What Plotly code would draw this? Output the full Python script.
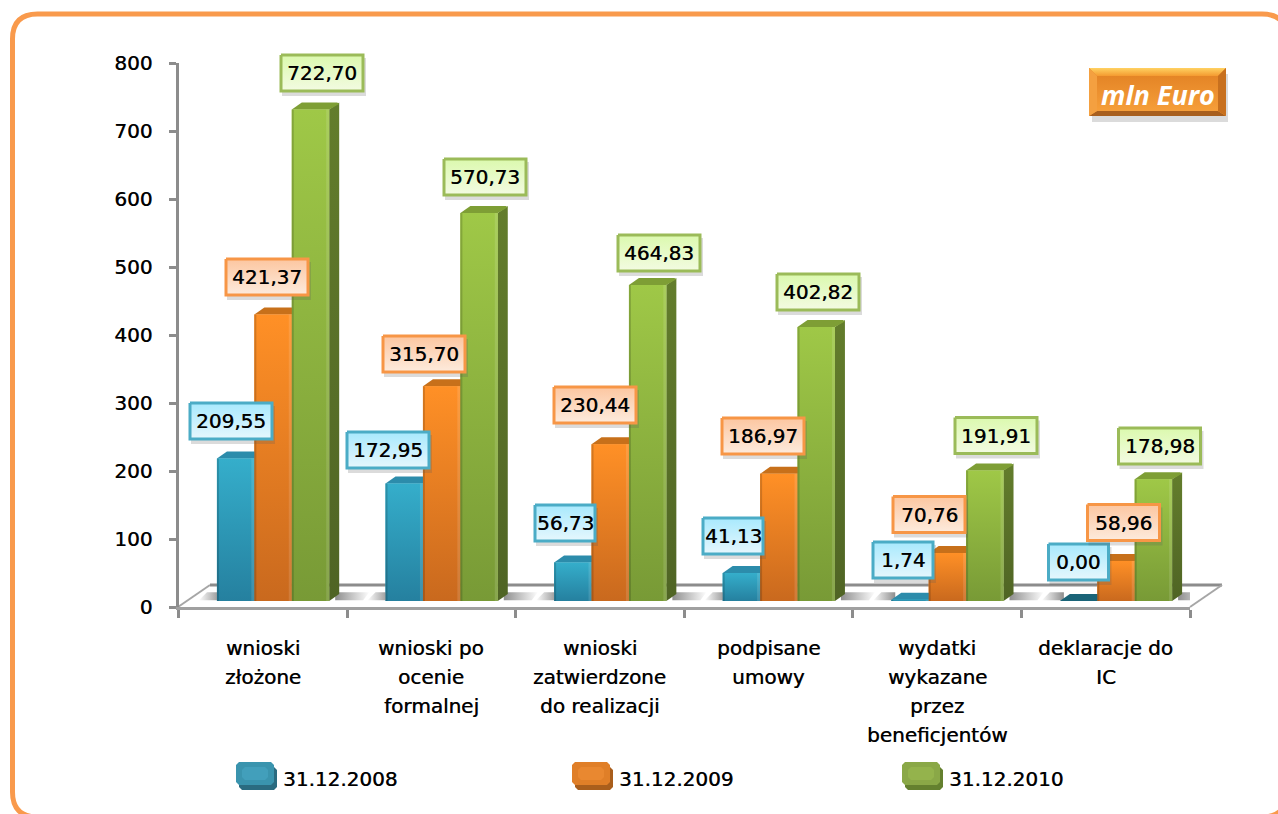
import plotly.graph_objects as go

# ---------- data ----------
categories = [
    ["wnioski", "złożone"],
    ["wnioski po", "ocenie", "formalnej"],
    ["wnioski", "zatwierdzone", "do realizacji"],
    ["podpisane", "umowy"],
    ["wydatki", "wykazane", "przez", "beneficjentów"],
    ["deklaracje do", "IC"],
]
series_names = ["31.12.2008", "31.12.2009", "31.12.2010"]
values_2008 = [209.55, 172.95, 56.73, 41.13, 1.74, 0.00]
values_2009 = [421.37, 315.70, 230.44, 186.97, 70.76, 58.96]
values_2010 = [722.70, 570.73, 464.83, 402.82, 191.91, 178.98]
y_ticks = [0, 100, 200, 300, 400, 500, 600, 700, 800]
unit_label = "mln Euro"

# ---------- layout constants (pixels of the 1278x814 page) ----------
W, H = 1278, 814
X0, X1 = 178.5, 1190.0
Y0, Y800 = 607.0, 63.0
PX_X = (X1 - X0) / 6.0
PX_Y = (Y0 - Y800) / 800.0
FONT = "DejaVu Sans"
THICK = "0.5px 0 0.5px rgba(0,0,0,0.75)"

# value-axis shift of the 3-D bars above the front edge of the floor
BASE = 6.0 / PX_Y
DX = 10.0 / PX_X
DY = 7.0 / PX_Y
BAR_W = 37.4 / PX_X
OFFSETS = [-0.272, -0.050, 0.172]

STYLE = [
    dict(top="#35AECB", bottom="#25809F", side="#1F6F8A", cap="#2C8CAB", cap0="#1A6478",
         border="#4BACC6", f0="#E6F7FD", f1="#A8E9FD", sw="#3A94AE", sw2="#429FBB", dark="#2A6B80"),
    dict(top="#FF9026", bottom="#C9691E", side="#B85F14", cap="#C7701A", cap0="#C7701A",
         border="#F79646", f0="#FDEBDD", f1="#FCC6A0", sw="#E07F28", sw2="#E98830", dark="#A95E1C"),
    dict(top="#9FC847", bottom="#789A36", side="#637D2C", cap="#7E9E35", cap0="#7E9E35",
         border="#9BBB59", f0="#F3FBE2", f1="#DBF9AE", sw="#8AA847", sw2="#94B34C", dark="#64802F"),
]

# label box centres, in page pixels, one row per series
LABEL_POS = [
    [(231, 421), (388, 450), (565, 523), (733, 536), (903, 560), (1078.5, 562)],
    [(267, 277), (424, 354), (595, 405), (763, 436), (929, 514.5), (1123.5, 522.5)],
    [(322, 73), (485, 177), (659, 253), (818, 292), (996, 435.5), (1159.5, 446)],
]
LEGEND_X = [236, 572, 902]
CAT_LINE_Y = 648
CAT_LINE_STEP = 29.0

series = [values_2008, values_2009, values_2010]
fig = go.Figure()


def poly(xs, ys, color=None, grad=None, axes=("x", "y"), line=None, lw=0, name=""):
    kw = dict(
        x=list(xs) + [xs[0]], y=list(ys) + [ys[0]],
        xaxis=axes[0], yaxis=axes[1], mode="lines", fill="toself",
        hoverinfo="skip", showlegend=False, name=name,
        line=dict(width=lw, color=line or "rgba(0,0,0,0)"),
    )
    if grad:
        kw["fillgradient"] = dict(type=grad[0], colorscale=[[0, grad[1]], [1, grad[2]]])
    else:
        kw["fillcolor"] = color
    fig.add_trace(go.Scatter(**kw))


# real bars (front faces)
for s, vals in enumerate(series):
    fig.add_trace(go.Bar(
        x=list(range(6)), y=vals, base=BASE, width=BAR_W, offset=OFFSETS[s],
        name=series_names[s], marker=dict(color=STYLE[s]["top"], line=dict(width=0)),
        showlegend=False, hovertemplate="%{y:.2f}<extra>" + series_names[s] + "</extra>",
    ))

# floor shadows left and right of each group
for c in range(6):
    xl = c + OFFSETS[0]
    xr = c + OFFSETS[2] + BAR_W + DX
    yb, yt = BASE + 1, BASE + 13
    poly([xl - 18 / PX_X, xl + 4 / PX_X, xl + 4 / PX_X, xl - 10 / PX_X], [yb, yb, yt, yt],
         grad=("horizontal", "#FDFDFD", "#8E8E8E"))
    poly([xr - 4 / PX_X, xr + 24 / PX_X, xr + 30 / PX_X, xr - 4 / PX_X], [yb, yb, yt, yt],
         grad=("horizontal", "#8E8E8E", "#FDFDFD"))

# 3-D faces, painted in series order so that later bars cover earlier ones
for c in range(6):
    for s, vals in enumerate(series):
        v = vals[c]
        st = STYLE[s]
        x0 = c + OFFSETS[s]
        x1 = x0 + BAR_W
        yt = BASE + v
        e = 2.0 / PX_X
        # side face
        poly([x1, x1 + DX, x1 + DX, x1], [BASE, BASE + DY, yt + DY, yt],
             grad=("vertical", "#4F6424" if s == 2 else st["side"], st["side"]))
        # top face with softened back corners
        poly([x0, x0 + DX * 0.8, x0 + DX * 1.0, x1 + DX * 0.8, x1 + DX, x1],
             [yt, yt + DY * 0.8, yt + DY, yt + DY, yt + DY * 0.8, yt],
             color=st["cap0"] if v == 0 else st["cap"])
        if v > 0:
            # front face, gradient from foot to head
            poly([x0, x1, x1, x0], [BASE, BASE, yt, yt], grad=("vertical", st["bottom"], st["top"]))
            poly([x0, x0 + e, x0 + e, x0], [BASE, BASE, yt, yt], color="rgba(0,0,0,0.16)")
            poly([x1 - e * 1.5, x1, x1, x1 - e * 1.5], [BASE, BASE, yt, yt], color="rgba(255,255,255,0.12)")

annotations = []


def text(x, y, s, size=20, color="#000000", anchor="center", axes=("x2", "y2"), shadow=THICK, family=FONT):
    annotations.append(dict(
        x=x, y=y, xref=axes[0], yref=axes[1], text=s, showarrow=False,
        xanchor=anchor, yanchor="middle",
        font=dict(family=family, size=size, color=color, shadow=shadow),
    ))


P = ("x2", "y2")

# value labels
for s, vals in enumerate(series):
    st = STYLE[s]
    for c, v in enumerate(vals):
        cx, cy = LABEL_POS[s][c]
        label = f"{v:.2f}".replace(".", ",")
        if len(label) == 6:
            hw = 41
        elif s == 0:
            hw = 30
        else:
            hw = 36
        hh = 18
        poly([cx - hw + 1, cx + hw + 3, cx + hw + 3, cx - hw + 1],
             [cy - hh + 3, cy - hh + 3, cy + hh + 5, cy + hh + 5],
             color="rgba(90,90,90,0.22)", axes=P)
        poly([cx - hw, cx + hw, cx + hw, cx - hw], [cy - hh, cy - hh, cy + hh, cy + hh],
             grad=("vertical", st["f0"], st["f1"]), axes=P, line=st["border"], lw=3)
        text(cx, cy, label)

# unit badge
poly([1092, 1228, 1228, 1092], [74, 74, 122, 122], color="rgba(90,90,90,0.22)", axes=P)
poly([1089, 1226, 1226, 1089], [68, 68, 116, 116], grad=("vertical", "#F8A23C", "#E07F22"), axes=P)
poly([1089, 1226, 1218, 1097], [68, 68, 76, 76], grad=("vertical", "#F49A30", "#FFD262"), axes=P)
poly([1089, 1226, 1218, 1097], [116, 116, 111, 111], color="#A85F1E", axes=P)
poly([1089, 1097, 1097, 1089], [68, 76, 111, 116], color="#F4A040", axes=P)
poly([1226, 1218, 1218, 1226], [68, 76, 111, 116], color="#C8701E", axes=P)
text(1157.5, 94, f"<b><i>{unit_label}</i></b>", size=27, color="#FFFFFF", shadow="none", family="Open Sans")

# legend
for s, name in enumerate(series_names):
    st = STYLE[s]
    lx = LEGEND_X[s]
    rr = lambda a, b, c, d, k=3: ([a + k, b - k, b, b, b - k, a + k, a, a], [c, c, c + k, d - k, d, d, d - k, c + k])
    xs, ys = rr(lx + 3, lx + 41, 767, 790)
    poly(xs, ys, color=st["dark"], axes=P)
    xs, ys = rr(lx, lx + 38, 762, 785)
    poly(xs, ys, color=st["sw"], axes=P)
    xs, ys = rr(lx + 6, lx + 32, 767, 780)
    poly(xs, ys, color=st["sw2"], axes=P)
    text(lx + 45, 779, name, anchor="left")

# category labels, one annotation per line
for c, lines in enumerate(categories):
    for i, ln in enumerate(lines):
        annotations.append(dict(
            x=c, xref="x", y=CAT_LINE_Y + i * CAT_LINE_STEP, yref="y2", text=ln, showarrow=False,
            xanchor="center", yanchor="middle",
            font=dict(family=FONT, size=20, color="#000000", shadow=THICK),
        ))


# frame and floor, on the paper so that they sit below both subplots
def px(x):
    return x / W


def py(y):
    return 1 - y / H


def path(points):
    out = ""
    for cmd, coords in points:
        out += cmd + " " + " ".join(
            f"{px(coords[i]):.6f} {py(coords[i + 1]):.6f}" for i in range(0, len(coords), 2)
        ) + " "
    return out + "Z"


def seg(x0, y0, x1, y1, color, width):
    return dict(type="line", xref="paper", yref="paper", layer="below",
                x0=px(x0), y0=py(y0), x1=px(x1), y1=py(y1), line=dict(color=color, width=width))


shapes = [
    dict(type="path", xref="paper", yref="paper", layer="below", line=dict(color="#F99A4C", width=5),
         path=path([("M", [12.5, 39]), ("Q", [12.5, 14, 37.5, 14]), ("L", [1262, 14]),
                    ("Q", [1287, 14, 1287, 39]), ("L", [1287, 792]), ("Q", [1287, 817, 1262, 817]),
                    ("L", [37.5, 817]), ("Q", [12.5, 817, 12.5, 792])])),
    dict(type="path", xref="paper", yref="paper", layer="below", fillcolor="#FDFDFD", line=dict(width=0),
         path=path([("M", [178, 607]), ("L", [210, 585, 1222, 585, 1190, 607])])),
    seg(178, 607, 210, 585, "#A6A6A6", 2),
    seg(210, 585, 1222, 585, "#8C8C8C", 3),
    seg(1222, 585, 1190, 607, "#A6A6A6", 2),
]

fig.update_layout(
    width=W, height=H, autosize=False, margin=dict(l=0, r=0, t=0, b=0, autoexpand=False),
    paper_bgcolor="#FFFFFF", plot_bgcolor="rgba(0,0,0,0)", barmode="overlay",
    showlegend=False, annotations=annotations, shapes=shapes,
    xaxis=dict(
        domain=[X0 / W, X1 / W], range=[-0.5, 5.5], tickmode="array",
        tickvals=[i - 0.5 for i in range(7)], ticktext=[""] * 7, ticks="outside", ticklen=8, tickwidth=3,
        tickcolor="#8C8C8C", showline=True, linecolor="#A0A0A0", linewidth=3,
        showgrid=False, zeroline=False, fixedrange=True, automargin=False,
    ),
    yaxis=dict(
        domain=[(H - Y0) / H, (H - Y800) / H], range=[0, 800], tickmode="array",
        tickvals=y_ticks, ticktext=[str(t) for t in y_ticks], ticks="outside", ticklen=7, tickwidth=3,
        tickcolor="#8C8C8C", showline=True, linecolor="#8C8C8C", linewidth=3,
        showgrid=False, zeroline=False, fixedrange=True, ticklabelstandoff=12, automargin=False,
        tickfont=dict(family=FONT, size=20, color="#000000", shadow=THICK),
    ),
    xaxis2=dict(domain=[0, 1], range=[0, W], visible=False, fixedrange=True, anchor="y2", automargin=False),
    yaxis2=dict(domain=[0, 1], range=[H, 0], visible=False, fixedrange=True, anchor="x2", automargin=False),
)

fig.write_html("out.html", config={"displayModeBar": False},
               post_script="document.body.style.margin='0';document.body.style.overflow='hidden';")
